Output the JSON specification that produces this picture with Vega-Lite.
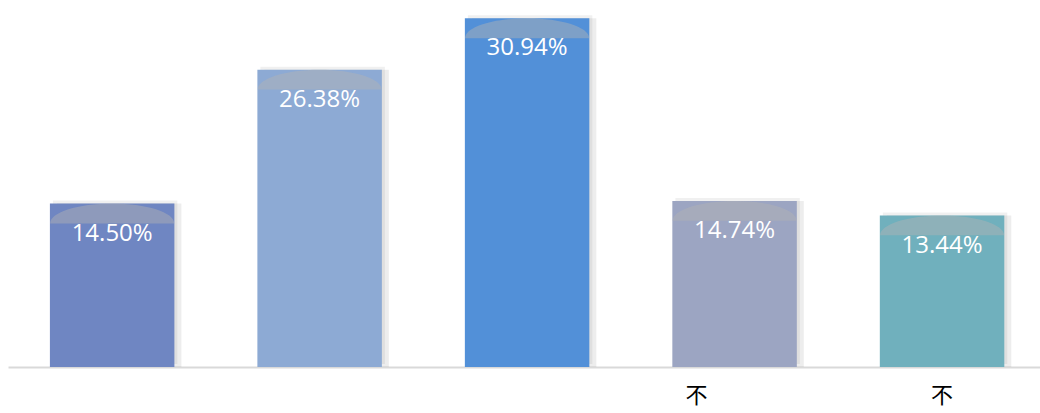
{
  "$schema": "https://vega.github.io/schema/vega-lite/v6.json",
  "width": 1032,
  "height": 362,
  "padding": {"left": 8, "right": 0, "top": 5, "bottom": 46},
  "autosize": {"type": "none"},
  "background": "white",
  "config": {"view": {"stroke": null}},
  "data": {
    "values": [
      {"id": "c1", "value": 14.50, "label": "14.50%", "color": "#6f86c2"},
      {"id": "c2", "value": 26.38, "label": "26.38%", "color": "#8daad4"},
      {"id": "c3", "value": 30.94, "label": "30.94%", "color": "#5290d8"},
      {"id": "c4", "value": 14.74, "label": "14.74%", "color": "#9ca5c2"},
      {"id": "c5", "value": 13.44, "label": "13.44%", "color": "#70b0bd"}
    ]
  },
  "encoding": {
    "x": {
      "field": "id",
      "type": "nominal",
      "sort": null,
      "scale": {"paddingInner": 0.4, "paddingOuter": 0.187, "align": 0.54},
      "axis": {
        "title": null,
        "labelAngle": 0,
        "ticks": false,
        "domainColor": "#d9d9d9",
        "domainWidth": 2,
        "labelPadding": 18,
        "labelFontSize": 22,
        "labelBaseline": "top",
        "labelColor": "#000000",
        "labelFont": "Noto Sans CJK SC",
        "labelOffset": {"condition": {"test": "datum.value == 'c4'", "value": -38}, "value": 0},
        "labelExpr": "datum.value == 'c4' || datum.value == 'c5' ? '不' : ''"
      }
    },
    "y": {
      "field": "value",
      "type": "quantitative",
      "scale": {"domain": [0, 32.12], "nice": false},
      "axis": null
    }
  },
  "layer": [
    {
      "mark": {"type": "bar", "color": "#000000", "opacity": 0.07, "xOffset": 7, "yOffset": 0}
    },
    {
      "mark": {"type": "bar", "color": "#000000", "opacity": 0.06, "xOffset": 3, "yOffset": -3}
    },
    {
      "mark": {"type": "bar"},
      "encoding": {
        "color": {"field": "color", "type": "nominal", "scale": null, "legend": null}
      }
    },
    {
      "mark": {
        "type": "point",
        "filled": true,
        "color": "#b4b4b4",
        "opacity": 0.45,
        "size": 15376,
        "shape": "M -1 0.32 A 1 0.32 0 0 1 1 0.32 Z",
        "strokeWidth": 0
      }
    },
    {
      "mark": {"type": "text", "color": "#ffffff", "fontSize": 24, "font": "Open Sans", "baseline": "middle", "dy": 30},
      "encoding": {
        "text": {"field": "label", "type": "nominal"}
      }
    }
  ]
}
